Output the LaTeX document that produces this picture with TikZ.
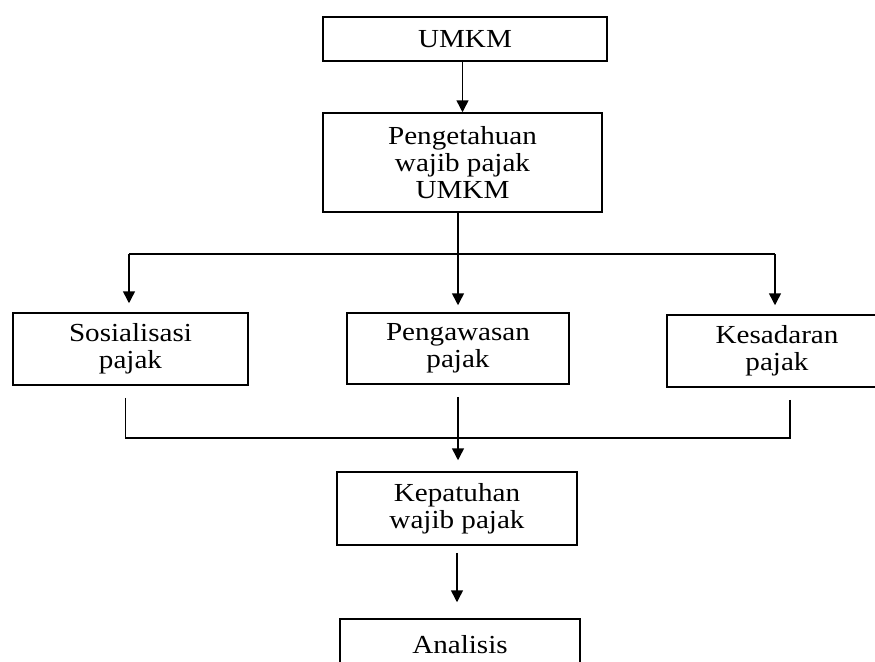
\documentclass[tikz,border=0pt]{standalone}
\usepackage{fontspec}
\setmainfont{Liberation Serif}[FakeStretch=1.12]
\usepackage{tikz}
\usetikzlibrary{arrows.meta, calc}
\tikzset{>={Triangle[width=12pt,length=12pt]}}
\tikzset{
    kotak/.style={draw, line width=1.5pt, align=center, inner sep=0pt,
        font=\fontsize{26}{27}\selectfont},
    garis/.style={line width=1.5pt}
}

\begin{document}
\begin{tikzpicture}[x=1pt, y=-1pt]
            \useasboundingbox (0,0) rectangle (875,661);
            \clip (0,0) rectangle (875,661);

            \node[kotak, minimum width=284pt, minimum height=44pt] (umkm) at (465,39) {UMKM};
            \node[kotak, minimum width=279pt, minimum height=99pt] (tahu) at (462.5,162.5) {Pengetahuan\\wajib pajak\\UMKM};

            \node[kotak, minimum width=235pt, minimum height=72pt] (sos) at (130.5,349) {Sosialisasi\\pajak};
            \node[kotak, minimum width=222pt, minimum height=71pt] (awas) at (458,348.5) {Pengawasan\\pajak};
            \node[kotak, minimum width=220pt, minimum height=72pt] (sadar) at (777,351) {Kesadaran\\pajak};

            \node[kotak, minimum width=240pt, minimum height=73pt] (patuh) at (457,508.5) {Kepatuhan\\wajib pajak};
            \node[kotak, minimum width=240pt, minimum height=52pt] (analisis) at (460,645) {Analisis};

            \coordinate (kiri) at (129,254);
            \coordinate (kanan) at (775,254);
            \coordinate (gabung) at (458,438);

            \draw[garis, ->] (tahu.north |- umkm.south) -- (tahu.north);
            \draw[garis, ->, shorten >=7pt] (awas.north |- tahu.south) -- (awas.north);
            \draw[garis] (kiri) -- (kanan);
            \draw[garis, ->, shorten >=9pt] (kiri) -- (kiri |- sos.north);
            \draw[garis, ->, shorten >=9pt] (kanan) -- (kanan |- sadar.north);

            \draw[garis, shorten <=12pt] ([xshift=-5pt]sos.south) |- (gabung);
            \draw[garis, shorten <=12pt] ([xshift=13pt]sadar.south) |- (gabung);
            \draw[garis, ->, shorten <=12pt, shorten >=11pt] (awas.south) -- (awas.south |- patuh.north);

            \draw[garis, ->, shorten <=7pt, shorten >=16pt] (patuh.south) -- (patuh.south |- analisis.north);
        \end{tikzpicture}
\end{document}
